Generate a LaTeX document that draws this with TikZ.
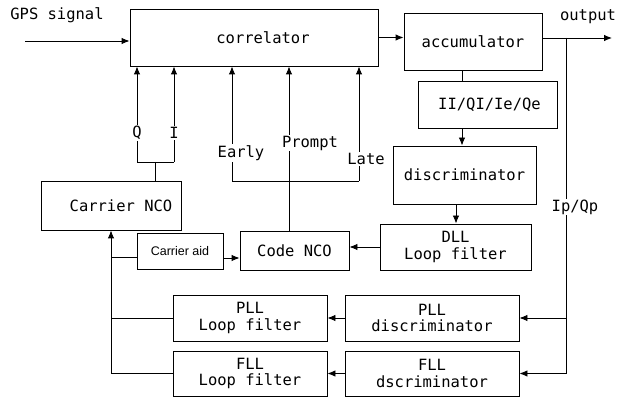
\documentclass[tikz,border=0pt]{standalone}
\usepackage{fontspec}
\setmainfont{DejaVu Sans Mono}
\newfontfamily\smallsans{Liberation Sans}
\usetikzlibrary{
    calc,
    arrows.meta
}
\tikzset{
  blk/.style={draw, line width=0.9pt, inner sep=0pt, align=center,
    font=\fontsize{15.5}{16.5}\selectfont},
  lbl/.style={inner sep=1pt, font=\fontsize{15.5}{16.5}\selectfont},
  onwire/.style={lbl, fill=white},
  wire/.style={line width=0.9pt},
  sig/.style={wire, -{Latex[length=8pt,width=6.5pt]}}
}

\begin{document}
\begin{tikzpicture}[x=1pt,y=-1pt]
  \useasboundingbox (0,0) rectangle (630,398);

  % blocks
  \node[blk, minimum width=248, minimum height=57] (corr) at (254,37.5) {\hspace*{18pt}correlator};
  \node[blk, minimum width=138, minimum height=57] (acc) at (473,41.5) {accumulator};
  \node[blk, minimum width=139, minimum height=47] (iq) at (487.5,104.5) {\hspace*{4pt}II/QI/Ie/Qe};
  \node[blk, minimum width=143, minimum height=58] (disc) at (464.5,175) {discriminator};
  \node[blk, minimum width=151, minimum height=46] (dll) at (455.5,247) {DLL\\Loop filter};
  \node[blk, minimum width=109, minimum height=39] (cnco) at (294.5,250.5) {Code NCO};
  \node[blk, minimum width=86, minimum height=36,
        font=\smallsans\fontsize{12.5}{13}\selectfont] (aid) at (180,251) {Carrier aid};
  \node[blk, minimum width=140, minimum height=49] (carnco) at (111,205.5) {\hspace*{20pt}Carrier NCO};
  \node[blk, minimum width=154, minimum height=46] (pllf) at (250,318) {PLL\\Loop filter};
  \node[blk, minimum width=154, minimum height=45] (fllf) at (250,373.5) {FLL\\Loop filter};
  \node[blk, minimum width=174, minimum height=46] (plld) at (432,318) {PLL\\discriminator};
  \node[blk, minimum width=174, minimum height=45] (flld) at (432,373.5) {FLL\\dscriminator};

  % free ends and wire bends
  \coordinate (gps) at (25,41);
  \coordinate (out) at (612,38);
  \coordinate (tap) at (566,38);
  \coordinate (dn) at (462,0);
  \coordinate (dn2) at (456,0);
  \coordinate (qx) at (137,162);
  \coordinate (ix) at (174,162);
  \coordinate (qi) at (155.5,162);
  \coordinate (ex) at (232,181);
  \coordinate (lx) at (359,181);
  \coordinate (px) at (289,0);
  \coordinate (aidout) at (223,258);
  \coordinate (aidin) at (137,257);

  % input, output and the accumulator chain
  \node[lbl] (gpslbl) at (57,15) {GPS signal};
  \draw[sig] (gps) -- (gps -| corr.west);
  \draw[sig] (corr.east) -- (corr.east -| acc.west);
  \draw[sig] (acc.east |- out) -- (out);
  \node[lbl] (outlbl) at (588,17) {output};
  \draw[wire] (dn |- acc.south) -- (dn |- iq.north);
  \draw[sig] (dn |- iq.south) -- (dn |- disc.north);
  \draw[sig] (dn2 |- disc.south) -- (dn2 |- dll.north);
  \draw[sig] (dll.west) -- (dll.west -| cnco.east);
  \draw[sig] (aidout) -- (aidout -| cnco.west);

  % Ip/Qp to the carrier loops
  \draw[sig] (tap) |- (plld.east);
  \draw[sig] (tap) |- (flld.east);
  \node[onwire] (ipqp) at (575,207) {Ip/Qp};
  \draw[sig] (plld.west) -- (pllf.east);
  \draw[sig] (flld.west) -- (fllf.east);
  \draw[sig] (fllf.west) -| (carnco.south);
  \draw[wire] (pllf.west) -- (pllf.west -| carnco.south);
  \draw[wire] (aidin) -- (aidin -| carnco.south);

  % carrier replicas
  \draw[sig] (qx) -- (qx |- corr.south);
  \draw[sig] (ix) -- (ix |- corr.south);
  \draw[wire] (qx) -- (ix);
  \draw[wire] (qi) -- (qi |- carnco.north);
  \node[onwire] (qlbl) at (137,133) {Q};
  \node[onwire] (ilbl) at (174,133) {I};

  % code replicas
  \draw[sig] (ex) -- (ex |- corr.south);
  \draw[sig] (lx) -- (lx |- corr.south);
  \draw[wire] (ex) -- (lx);
  \draw[sig] (px |- cnco.north) -- (px |- corr.south);
  \node[onwire] (early) at (241,153) {Early};
  \node[onwire] (prompt) at (310,143) {Prompt};
  \node[onwire] (late) at (366,159) {Late};
\end{tikzpicture}
\end{document}
